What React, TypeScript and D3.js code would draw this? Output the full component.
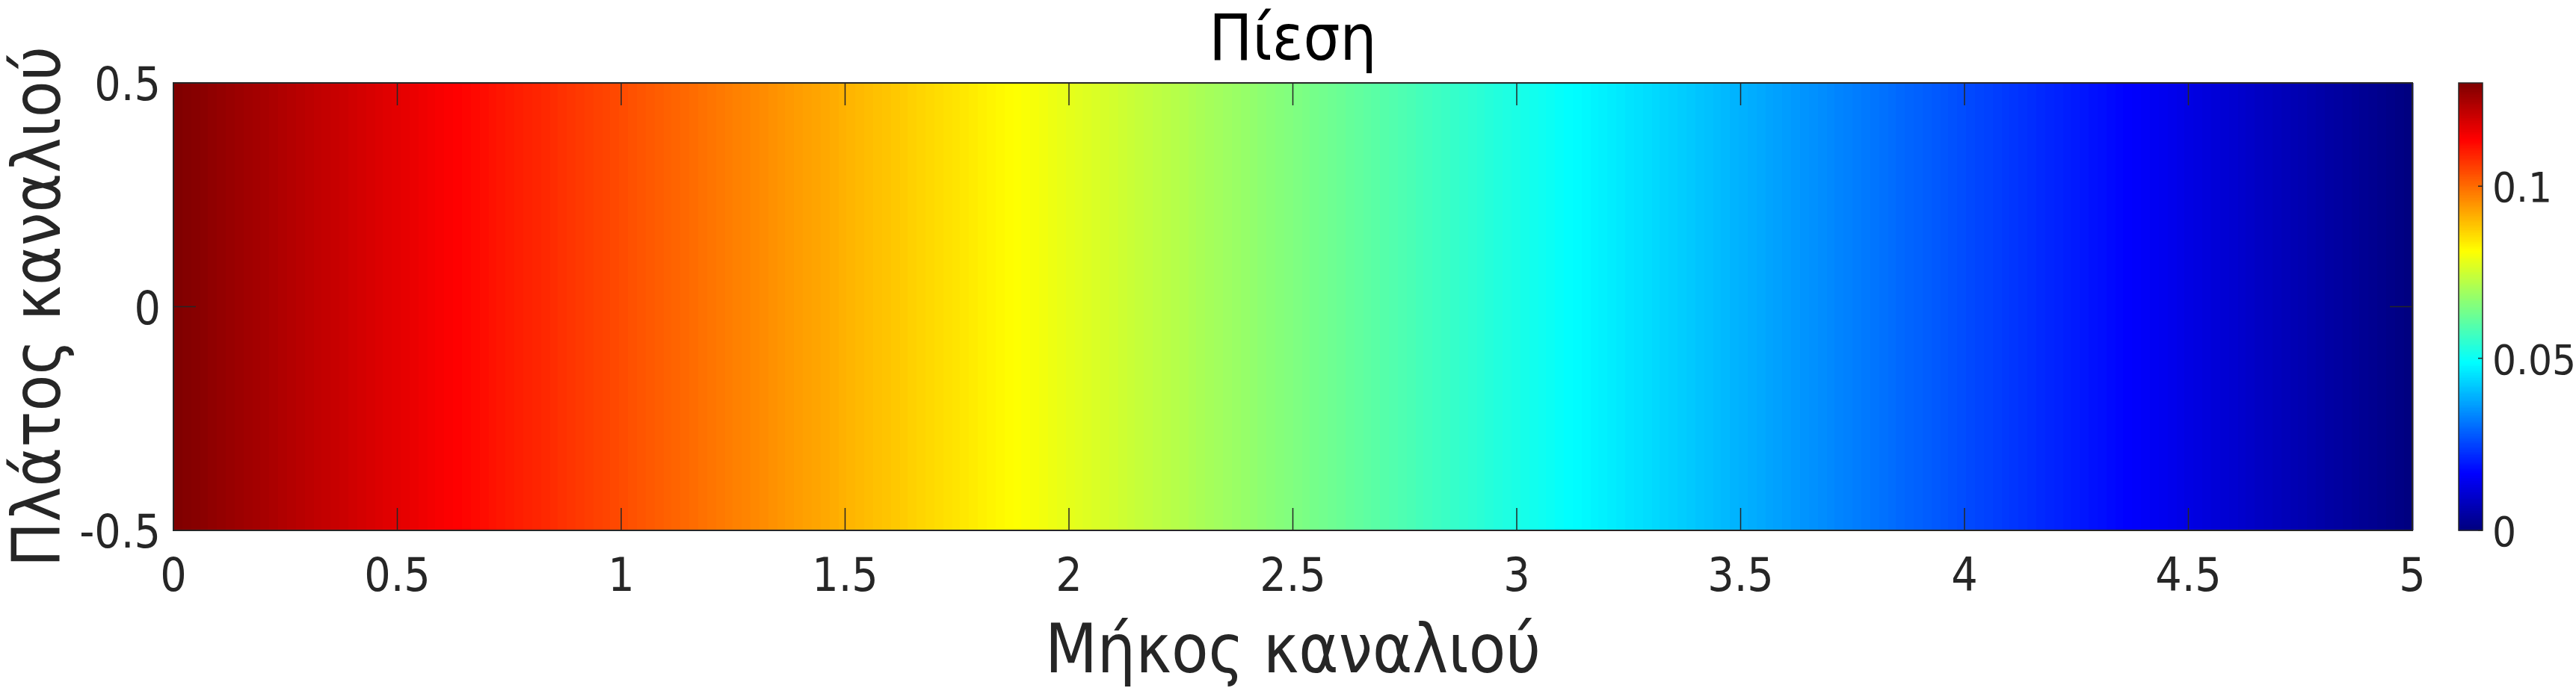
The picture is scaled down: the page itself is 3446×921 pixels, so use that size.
import React, { useEffect, useRef } from 'react';
import * as d3 from 'd3';

// pressure along the channel, constant across the width
const channelX = [0, 0.5, 1, 1.5, 2, 2.5, 3, 3.5, 4, 4.5, 5];
const pressure = [0.13, 0.117, 0.104, 0.091, 0.078, 0.065, 0.052, 0.039, 0.026, 0.013, 0];
const channelY = [-0.5, 0.5];

const xTicks = [0, 0.5, 1, 1.5, 2, 2.5, 3, 3.5, 4, 4.5, 5];
const yTicks = [-0.5, 0, 0.5];
const cbTicks = [0, 0.05, 0.1];
const cbDomain = [0, 0.13];

const titleText = 'Πίεση';
const xLabelText = 'Μήκος καναλιού';
const yLabelText = 'Πλάτος καναλιού';

const W = 3446;
const H = 921;
const FONT = '"DejaVu Sans Condensed", "DejaVu Sans", sans-serif';
const INK = '#262626';
const NCOLORS = 256;

// matlab jet
const jet = (t: number) => {
  const c = (v: number) => Math.round(255 * Math.max(0, Math.min(1, v)));
  return `rgb(${c(1.5 - Math.abs(4 * t - 3))},${c(1.5 - Math.abs(4 * t - 2))},${c(1.5 - Math.abs(4 * t - 1))})`;
};

const App = () => {
  const ref = useRef<SVGSVGElement>(null);

  useEffect(() => {
    const svg = d3.select(ref.current);
    svg.selectAll('*').remove();

    const margin = { left: 232, right: 3227, top: 111, bottom: 710 };
    const x = d3.scaleLinear().domain([0, 5]).range([margin.left, margin.right]);
    const y = d3.scaleLinear().domain([-0.5, 0.5]).range([margin.bottom, margin.top]);
    const pAt = d3.scaleLinear().domain(channelX).range(pressure);
    const norm = d3.scaleLinear().domain(cbDomain).range([0, 1]).clamp(true);
    const color = (v: number) => {
      const idx = Math.min(NCOLORS - 1, Math.floor(norm(v) * NCOLORS));
      return jet(idx / (NCOLORS - 1));
    };

    // heat map columns
    const g = svg.append('g');
    const step = 2;
    const cols = d3.range(margin.left, margin.right, step);
    g.selectAll('rect.col')
      .data(cols)
      .enter()
      .append('rect')
      .attr('x', d => d)
      .attr('y', y(channelY[1]))
      .attr('width', step + 0.5)
      .attr('height', y(channelY[0]) - y(channelY[1]))
      .attr('fill', d => color(pAt(x.invert(d + step / 2))));

    // axes box
    g.append('rect')
      .attr('x', margin.left)
      .attr('y', margin.top)
      .attr('width', margin.right - margin.left)
      .attr('height', margin.bottom - margin.top)
      .attr('fill', 'none')
      .attr('stroke', INK)
      .attr('stroke-width', 2);

    const tickLen = 30;
    xTicks.forEach(t => {
      g.append('line').attr('x1', x(t)).attr('x2', x(t)).attr('y1', margin.bottom).attr('y2', margin.bottom - tickLen)
        .attr('stroke', INK).attr('stroke-width', 1.5);
      g.append('line').attr('x1', x(t)).attr('x2', x(t)).attr('y1', margin.top).attr('y2', margin.top + tickLen)
        .attr('stroke', INK).attr('stroke-width', 1.5);
      g.append('text')
        .attr('x', x(t))
        .attr('y', 791)
        .attr('text-anchor', 'middle')
        .attr('fill', INK)
        .style('font-family', FONT)
        .style('font-size', '62px')
        .text(String(t));
    });

    yTicks.forEach(t => {
      g.append('line').attr('x1', margin.left).attr('x2', margin.left + tickLen).attr('y1', y(t)).attr('y2', y(t))
        .attr('stroke', INK).attr('stroke-width', 1.5);
      g.append('line').attr('x1', margin.right).attr('x2', margin.right - tickLen).attr('y1', y(t)).attr('y2', y(t))
        .attr('stroke', INK).attr('stroke-width', 1.5);
      g.append('text')
        .attr('x', 215)
        .attr('y', y(t) + 23)
        .attr('text-anchor', 'end')
        .attr('fill', INK)
        .style('font-family', FONT)
        .style('font-size', '62px')
        .text(String(t));
    });

    // colorbar
    const cb = { left: 3289, right: 3321 };
    const cy = d3.scaleLinear().domain(cbDomain).range([margin.bottom, margin.top]);
    const rows = d3.range(margin.top, margin.bottom, 1);
    svg.append('g').selectAll('rect')
      .data(rows)
      .enter()
      .append('rect')
      .attr('x', cb.left)
      .attr('y', d => d)
      .attr('width', cb.right - cb.left)
      .attr('height', 1.5)
      .attr('fill', d => color(cy.invert(d + 0.5)));
    svg.append('rect')
      .attr('x', cb.left)
      .attr('y', margin.top)
      .attr('width', cb.right - cb.left)
      .attr('height', margin.bottom - margin.top)
      .attr('fill', 'none')
      .attr('stroke', INK)
      .attr('stroke-width', 1.5);
    cbTicks.forEach(t => {
      svg.append('line').attr('x1', cb.right).attr('x2', cb.right - 6).attr('y1', cy(t)).attr('y2', cy(t))
        .attr('stroke', INK).attr('stroke-width', 1.5);
      svg.append('text')
        .attr('x', 3334)
        .attr('y', cy(t) + 21)
        .attr('fill', INK)
        .style('font-family', FONT)
        .style('font-size', '56px')
        .text(String(t));
    });

    // title and labels
    const cx = (margin.left + margin.right) / 2;
    svg.append('text')
      .attr('x', cx)
      .attr('y', 80)
      .attr('text-anchor', 'middle')
      .attr('fill', '#000')
      .style('font-family', FONT)
      .style('font-size', '86px')
      .text(titleText);
    svg.append('text')
      .attr('x', cx)
      .attr('y', 900)
      .attr('text-anchor', 'middle')
      .attr('fill', INK)
      .style('font-family', FONT)
      .style('font-size', '90px')
      .text(xLabelText);
    svg.append('text')
      .attr('transform', `translate(80,${(margin.top + margin.bottom) / 2}) rotate(-90)`)
      .attr('text-anchor', 'middle')
      .attr('fill', INK)
      .style('font-family', FONT)
      .style('font-size', '89px')
      .text(yLabelText);
  }, []);

  return (
    <svg
      ref={ref}
      width={W}
      height={H}
      style={{ position: 'absolute', left: 0, top: 0, background: '#fff' }}
    />
  );
};

export default App;
